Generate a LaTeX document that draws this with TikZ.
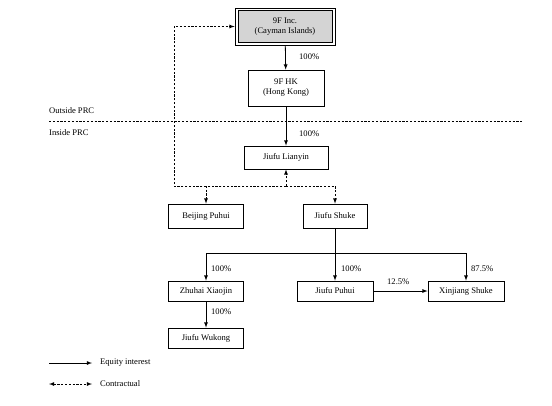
\documentclass[tikz,border=0pt]{standalone}
\usepackage{fontspec}
\setmainfont{Liberation Serif}
\usetikzlibrary{arrows}

\begin{document}
\begin{tikzpicture}[x=1bp, y=-1bp, font=\fontsize{8.6}{10}\selectfont]

\tikzstyle{entity} = [rectangle, draw=black, line width=0.8bp, align=center, inner sep=1pt]
\tikzstyle{small} = [entity, minimum width=75bp, minimum height=20bp]
\tikzstyle{equity} = [line width=0.8bp, -latex]
\tikzstyle{contract} = [line width=0.8bp, dash pattern=on 2.2bp off 1.6bp, -latex]
\tikzstyle{pct} = [anchor=west, inner sep=0pt]

\useasboundingbox (0,0) rectangle (552,405);

% companies
\node[entity, minimum width=100bp, minimum height=37bp] (inc) at (285, 26.5) {};
\node[entity, fill=black!17, minimum width=94bp, minimum height=32bp] (incinner) at (285, 26.5) {9F Inc.\\(Cayman Islands)};
\node[entity, minimum width=76bp, minimum height=36bp] (hk) at (286, 88) {9F HK\\(Hong Kong)};
\node[entity, minimum width=84bp, minimum height=23bp] (lianyin) at (286, 157.5) {Jiufu Lianyin};
\node[entity, minimum width=75bp, minimum height=24bp] (beijing) at (206, 216) {Beijing Puhui};
\node[entity, minimum width=64bp, minimum height=24bp] (shuke) at (335, 216) {Jiufu Shuke};
\node[small] (zhuhai) at (206, 291) {Zhuhai Xiaojin};
\node[small, minimum width=76bp] (puhui) at (335, 291) {Jiufu Puhui};
\node[small, minimum width=76bp] (xinjiang) at (466, 291) {Xinjiang Shuke};
\node[small] (wukong) at (206, 338) {Jiufu Wukong};

% PRC border
\coordinate (bleft) at (49, 121);
\coordinate (bright) at (524, 121);
\draw[line width=0.8bp, dash pattern=on 2.2bp off 1.6bp] (bleft) -- (bright);
\node[pct] (outside) at (49, 111) {Outside PRC};
\node[pct] (inside) at (49, 133) {Inside PRC};

% equity interests
\draw[equity] (inc) -- (hk);
\node[pct] (p1) at (299, 57) {100\%};
\draw[equity] (hk) -- (lianyin);
\node[pct] (p2) at (299, 134) {100\%};

\coordinate (split) at (335, 253);
\draw[line width=0.8bp] (shuke) -- (split);
\draw[equity] (split) -| (zhuhai);
\draw[equity] (split) -- (puhui);
\draw[equity] (split) -| (xinjiang);
\node[pct] (p3) at (211, 269) {100\%};
\node[pct] (p4) at (341, 269) {100\%};
\node[pct] (p5) at (471, 269) {87.5\%};
\draw[equity] (puhui) -- (xinjiang);
\node[pct] (p6) at (387, 282) {12.5\%};
\draw[equity] (zhuhai) -- (wukong);
\node[pct] (p7) at (211, 312) {100\%};

% contractual arrangements
\coordinate (junc) at (286, 186);
\coordinate (corner) at (174, 186);
\draw[contract] (junc) -- (lianyin);
\draw[contract] (junc) -| (beijing);
\draw[contract] (junc) -| (shuke);
\draw[contract] (junc) -- (corner) |- (inc.west);

% legend
\coordinate (l1a) at (49, 363);
\coordinate (l1b) at (92, 363);
\coordinate (l2a) at (49, 384);
\coordinate (l2b) at (92, 384);
\draw[equity] (l1a) -- (l1b);
\draw[contract, latex-latex] (l2a) -- (l2b);
\node[pct] (leq) at (100, 363) {Equity interest};
\node[pct] (lct) at (100, 384) {Contractual};

\end{tikzpicture}
\end{document}
